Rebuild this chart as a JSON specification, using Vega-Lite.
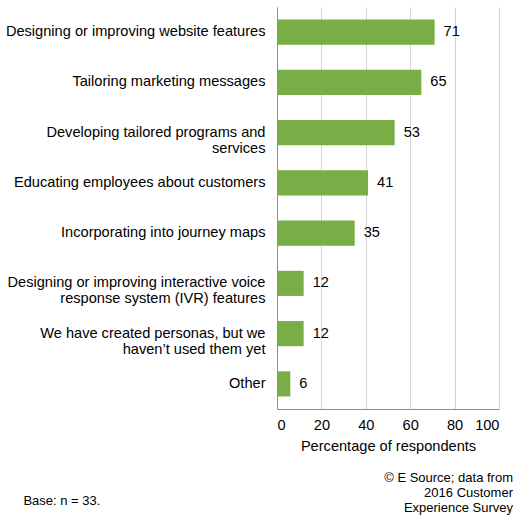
{
  "$schema": "https://vega.github.io/schema/vega-lite/v6.json",
  "background": "white",
  "padding": {"left": 5, "top": 7, "right": 5, "bottom": 5},
  "title": {
    "text": "Base: n = 33.",
    "orient": "bottom",
    "anchor": "start",
    "frame": "bounds",
    "offset": -20,
    "dx": 18,
    "font": "Liberation Sans",
    "fontSize": 13,
    "fontWeight": "normal",
    "color": "black"
  },
  "config": {
    "view": {"stroke": null},
    "font": "Liberation Sans",
    "concat": {"spacing": 0}
  },
  "vconcat": [
    {
      "width": 222,
      "height": 402,
      "title": {
        "text": ["© E Source; data from", "2016 Customer", "Experience Survey"],
        "orient": "bottom",
        "anchor": "end",
        "align": "right",
        "frame": "bounds",
        "offset": 19,
        "dx": 14,
        "font": "Liberation Sans",
        "fontSize": 13,
        "fontWeight": "normal",
        "lineHeight": 15,
        "color": "black"
      },
      "data": {
        "values": [
          {"item": "Designing or improving website features", "pct": 71},
          {"item": "Tailoring marketing messages", "pct": 65},
          {"item": "Developing tailored programs and|services", "pct": 53},
          {"item": "Educating employees about customers", "pct": 41},
          {"item": "Incorporating into journey maps", "pct": 35},
          {"item": "Designing or improving interactive voice|response system (IVR) features", "pct": 12},
          {"item": "We have created personas, but we|haven’t used them yet", "pct": 12},
          {"item": "Other", "pct": 6}
        ]
      },
      "encoding": {
        "y": {
          "field": "item",
          "type": "nominal",
          "sort": null,
          "title": null,
          "scale": {"paddingInner": 0.5, "paddingOuter": 0.25},
          "axis": {
            "labelExpr": "split(datum.label, '|')",
            "labelFont": "Liberation Sans",
            "labelFontSize": 14.6,
            "labelColor": "black",
            "labelLineHeight": 16,
            "labelLimit": 400,
            "labelPadding": 12,
            "ticks": false,
            "domainColor": "#8c8c8c",
            "domainWidth": 1
          }
        },
        "x": {
          "field": "pct",
          "type": "quantitative",
          "title": "Percentage of respondents",
          "scale": {"domain": [0, 100]},
          "axis": {
            "values": [0, 20, 40, 60, 80, 100],
            "labelFont": "Liberation Sans",
            "labelFontSize": 14.6,
            "labelColor": "black",
            "labelPadding": 8,
            "titleFont": "Liberation Sans",
            "titleFontSize": 14.6,
            "titleFontWeight": "normal",
            "titleColor": "black",
            "titlePadding": 7,
            "ticks": false,
            "grid": true,
            "gridColor": "#d4d4d4",
            "gridWidth": 1,
            "domainColor": "#8c8c8c",
            "domainWidth": 1
          }
        }
      },
      "layer": [
        {"mark": {"type": "bar", "color": "#79AD45"}},
        {
          "mark": {
            "type": "text",
            "align": "left",
            "baseline": "middle",
            "dx": 9,
            "font": "Liberation Sans",
            "fontSize": 14.6,
            "color": "black"
          },
          "encoding": {"text": {"field": "pct", "type": "quantitative"}}
        }
      ]
    }
  ]
}
